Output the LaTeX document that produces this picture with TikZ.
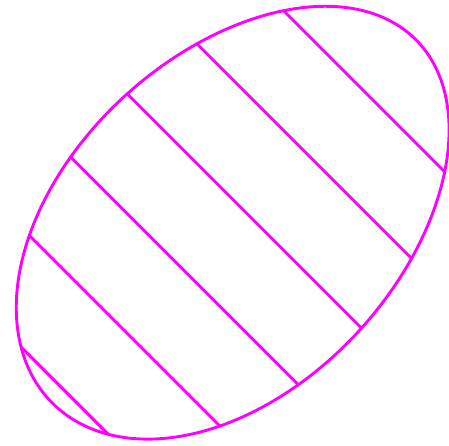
\documentclass[tikz,border=0pt]{standalone}
\begin{document}
\begin{tikzpicture}[x=1pt,y=-1pt,line width=2.9pt,
  declare function={eu(\t)=9+257*cos(\t);
    ev(\t)=322+166.2*sin(\t)*(1-0.0257*cos(\t));
    ex(\t)=(eu(\t)+ev(\t))/sqrt(2);
    ey(\t)=(ev(\t)-eu(\t))/sqrt(2);}]
\definecolor{mag}{RGB}{255,0,255}
\tikzset{egg/.style={draw=mag,line join=round},hatch/.style={draw=mag}}
\useasboundingbox (0,0) rectangle (449,446);
\draw[egg] plot[domain=0:359,samples=240,smooth] ({ex(\x)},{ey(\x)}) -- cycle;
\foreach \k in {0,...,5}{
  \pgfmathsetmacro\th{acos((193-84.7*\k-9)/257)}
  \coordinate (a\k) at ({ex(-\th)},{ey(-\th)});
  \coordinate (b\k) at ({ex(\th)},{ey(\th)});
  \draw[hatch] (a\k) -- (b\k);
}
\end{tikzpicture}
\end{document}
